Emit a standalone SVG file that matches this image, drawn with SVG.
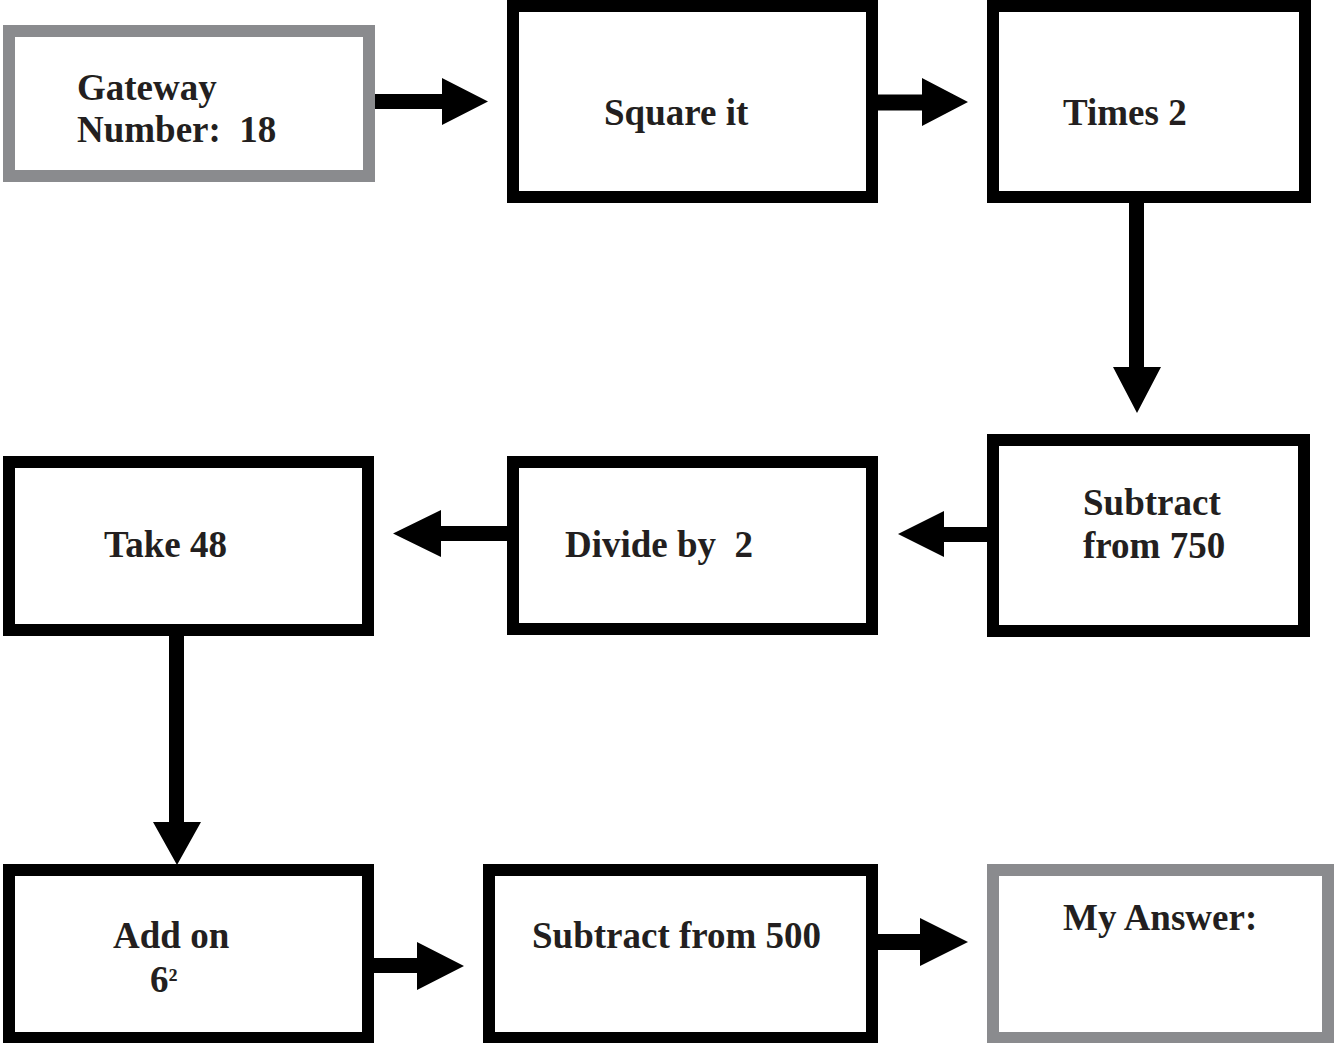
<svg xmlns="http://www.w3.org/2000/svg" width="1334" height="1043" viewBox="0 0 1334 1043">
  <style>
    .box { fill: #ffffff; stroke: #000000; stroke-width: 12; }
    .box.grey { stroke: #8a8b8e; }
    .label { font-family: "Liberation Serif", "Times New Roman", serif; font-weight: bold; font-size: 37px; fill: #231f20; }
    .arrow { fill: #000000; }
  </style>
  <rect width="1334" height="1043" fill="#ffffff"/>

  <!-- connectors: block arrows (shaft + triangular head) -->
  <g id="connectors">
    <polygon class="arrow" points="369,94 442,94 442,78 488,101.5 442,125 442,109 369,109"/>
    <polygon class="arrow" points="878,94.5 922,94.5 922,78 968,102 922,126 922,110.5 878,110.5"/>
    <polygon class="arrow" points="1129,203 1129,367 1113,367 1137,413 1161,367 1144,367 1144,203"/>
    <polygon class="arrow" points="988,527 944,527 944,511 898,534 944,557 944,542 988,542"/>
    <polygon class="arrow" points="507,526 441,526 441,510 393,533.5 441,557 441,541 507,541"/>
    <polygon class="arrow" points="169,636 169,822 153,822 177,865 201,822 184,822 184,636"/>
    <polygon class="arrow" points="374,958 417,958 417,942 464,966 417,990 417,973 374,973"/>
    <polygon class="arrow" points="878,934 920,934 920,918 968,942 920,966 920,950 878,950"/>
  </g>

  <g id="gateway">
    <rect class="box grey" x="9" y="31" width="360" height="145"/>
    <text class="label" x="77" y="100">Gateway</text>
    <text class="label" x="77" y="142" xml:space="preserve">Number:  18</text>
  </g>

  <g id="square">
    <rect class="box" x="513" y="6" width="359" height="191"/>
    <text class="label" x="604" y="125">Square it</text>
  </g>

  <g id="times2">
    <rect class="box" x="993" y="6" width="312" height="191"/>
    <text class="label" x="1063" y="125">Times 2</text>
  </g>

  <g id="subtract750">
    <rect class="box" x="993" y="440" width="311" height="191"/>
    <text class="label" x="1083" y="515">Subtract</text>
    <text class="label" x="1083" y="558">from 750</text>
  </g>

  <g id="divide">
    <rect class="box" x="513" y="462" width="359" height="167"/>
    <text class="label" x="565" y="557" xml:space="preserve">Divide by  2</text>
  </g>

  <g id="take48">
    <rect class="box" x="9" y="462" width="359" height="168"/>
    <text class="label" x="104" y="557">Take 48</text>
  </g>

  <g id="addon">
    <rect class="box" x="9" y="870" width="359" height="168"/>
    <text class="label" x="113" y="948">Add on</text>
    <text class="label" x="150" y="992">6<tspan font-size="30" dy="-3">²</tspan></text>
  </g>

  <g id="subtract500">
    <rect class="box" x="489" y="870" width="383" height="168"/>
    <text class="label" x="532" y="948">Subtract from 500</text>
  </g>

  <g id="answer">
    <rect class="box grey" x="993" y="870" width="335" height="168"/>
    <text class="label" x="1063" y="930">My Answer:</text>
  </g>
</svg>
